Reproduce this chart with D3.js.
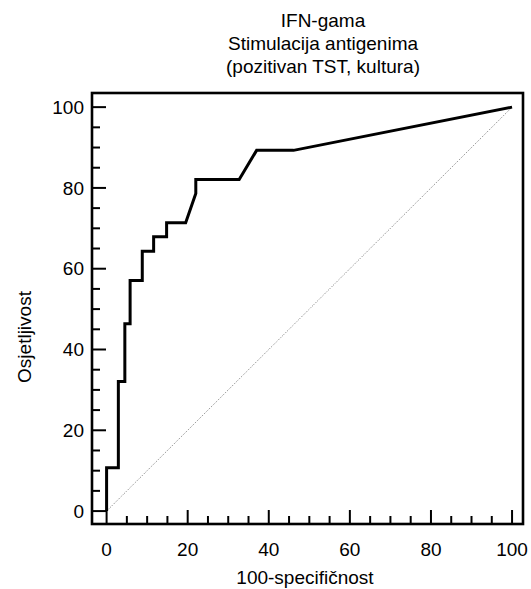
<!DOCTYPE html>
<html>
<head>
<meta charset="utf-8">
<script src="https://cdn.jsdelivr.net/npm/d3@7"></script>
<style>
html,body{margin:0;padding:0;background:#fff;}
text{font-family:"Liberation Sans",Arial,sans-serif;fill:#000;}
</style>
</head>
<body>
<script>
// Data: ROC curve (100-specificity, sensitivity)
const fprValues = [0, 0, 2.9, 2.9, 4.5, 4.5, 5.8, 5.8, 8.8, 8.8, 11.6, 11.6, 14.8, 14.8, 19.5, 22.0, 22.0, 32.7, 37.0, 46.1, 100];
const tprValues = [0, 10.7, 10.7, 32.1, 32.1, 46.4, 46.4, 57.1, 57.1, 64.3, 64.3, 67.9, 67.9, 71.4, 71.4, 78.6, 82.1, 82.1, 89.3, 89.3, 100];
const diagonal = [0, 100];
const xTicks = [0, 20, 40, 60, 80, 100];
const yTicks = [0, 20, 40, 60, 80, 100];
const minorTicks = d3.range(0, 101, 5);
const titleLines = ["IFN-gama", "Stimulacija antigenima", "(pozitivan TST, kultura)"];
const xLabel = "100-specifičnost";
const yLabel = "Osjetljivost";

const W = 531, H = 589;
const svg = d3.select("body").append("svg").attr("width", W).attr("height", H);

const L = 92, R = 523, T = 93, B = 524;
const x = d3.scaleLinear().domain([-3.6, 102.7]).range([L, R]);
const y = d3.scaleLinear().domain([-3.2, 103.5]).range([B, T]);

// diagonal reference
svg.append("line")
  .attr("x1", x(diagonal[0])).attr("y1", y(diagonal[0]))
  .attr("x2", x(diagonal[1])).attr("y2", y(diagonal[1]))
  .attr("stroke", "#777").attr("stroke-width", 1).attr("stroke-dasharray", "1,1.5");

// ticks (inward)
const tickG = svg.append("g").attr("stroke", "#000").attr("stroke-width", 2);
minorTicks.forEach(v => {
  const major = v % 20 === 0;
  const len = major ? 14 : 8;
  tickG.append("line").attr("x1", x(v)).attr("x2", x(v)).attr("y1", B).attr("y2", B - len);
  tickG.append("line").attr("x1", L).attr("x2", L + len).attr("y1", y(v)).attr("y2", y(v));
});

// curve
const pts = fprValues.map((d, i) => [d, tprValues[i]]);
svg.append("path")
  .attr("d", d3.line().x(d => x(d[0])).y(d => y(d[1]))(pts))
  .attr("fill", "none").attr("stroke", "#000").attr("stroke-width", 3)
  .attr("stroke-linejoin", "miter");

// frame
svg.append("rect").attr("x", L).attr("y", T).attr("width", R - L).attr("height", B - T)
  .attr("fill", "none").attr("stroke", "#000").attr("stroke-width", 2.6);

// tick labels
const fs = 19;
svg.selectAll(".xt").data(xTicks).enter().append("text")
  .attr("x", d => x(d)).attr("y", 556).attr("text-anchor", "middle")
  .attr("font-size", fs).text(d => d);
svg.selectAll(".yt").data(yTicks).enter().append("text")
  .attr("x", 84).attr("y", d => y(d)).attr("dy", "0.35em").attr("text-anchor", "end")
  .attr("font-size", fs).text(d => d);

// axis titles
svg.append("text").attr("x", 305).attr("y", 584).attr("text-anchor", "middle")
  .attr("font-size", fs).text(xLabel);
svg.append("text").attr("transform", "translate(31,337) rotate(-90)")
  .attr("text-anchor", "middle").attr("font-size", fs).text(yLabel);

// title
svg.selectAll(".title").data(titleLines).enter().append("text")
  .attr("x", 323).attr("y", (d, i) => 27 + i * 23).attr("text-anchor", "middle")
  .attr("font-size", fs).text(d => d);
</script>
</body>
</html>
